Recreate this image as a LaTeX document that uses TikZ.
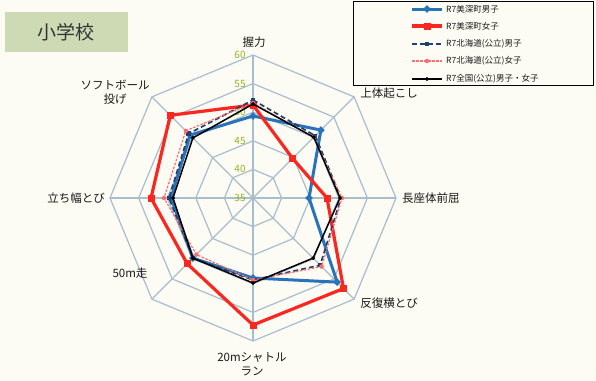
\documentclass[tikz,border=0pt]{standalone}
\usepackage{fontspec}
\setmainfont{Noto Sans CJK JP}
\usetikzlibrary{shapes.geometric}
\definecolor{bg}{RGB}{252,251,244}
\definecolor{gridc}{RGB}{168,190,204}
\definecolor{sblue}{RGB}{40,115,185}
\definecolor{sred}{RGB}{250,38,32}
\definecolor{snavy}{RGB}{35,65,110}
\definecolor{spink}{RGB}{250,110,110}
\definecolor{ringlab}{RGB}{150,180,30}
\definecolor{titlebg}{RGB}{205,218,180}
\definecolor{txt}{RGB}{25,25,25}
\tikzset{
  gridline/.style={draw=gridc, line width=1.2pt},
  ringlabel/.style={text=ringlab, font=\fontsize{10}{11}\selectfont, inner sep=0pt},
  axislabel/.style={text=txt, font=\fontsize{11.5}{14}\selectfont, inner sep=0pt, align=center},
  blueline/.style={draw=sblue, line width=3pt, line join=round},
  redline/.style={draw=sred, line width=3.2pt, line join=round},
  navyline/.style={draw=snavy, line width=1.7pt, dash pattern=on 5pt off 3pt, line join=round},
  pinkline/.style={draw=spink, line width=1.2pt, dash pattern=on 2.5pt off 1.5pt, line join=round},
  blackline/.style={draw=black, line width=1.5pt, line join=round},
  bluemark/.style={diamond, fill=sblue, minimum size=8pt, inner sep=0pt},
  redmark/.style={rectangle, fill=sred, minimum size=7pt, inner sep=0pt},
  navymark/.style={rectangle, fill=snavy, minimum size=4.5pt, inner sep=0pt},
  pinkmark/.style={circle, fill=spink, minimum size=4.5pt, inner sep=0pt},
  blackmark/.style={diamond, fill=black, minimum size=4.5pt, inner sep=0pt},
  legtext/.style={anchor=west, text=txt, font=\fontsize{8.5}{10}\selectfont, inner sep=0pt},
  titlebox/.style={fill=titlebg, minimum width=123pt, minimum height=40pt, inner sep=0pt,
    text=black!80, font=\fontsize{19}{22}\selectfont}
}
\begin{document}
\begin{tikzpicture}[x=1pt,y=-1pt]
\fill[bg] (0,0) rectangle (596,380);
\useasboundingbox (0,0) rectangle (596,380);

% title
\node[titlebox] (title) at (66,32) {小学校};

% radar
\begin{scope}[shift={(253,198)}, y=1pt]
  \coordinate (C) at (0,0);
  \foreach \k in {1,...,5} {
    \pgfmathsetmacro\r{28.6*\k}
    \draw[gridline] (90:\r) -- (45:\r) -- (0:\r) -- (-45:\r) -- (-90:\r) -- (-135:\r) -- (180:\r) -- (135:\r) -- cycle;
  }
  \foreach \a [count=\i] in {90,45,0,-45,-90,-135,180,135} {
    \coordinate (ax\i) at (\a:143);
    \draw[gridline] (C) -- (ax\i);
  }
  \foreach \k/\v in {0/35,1/40,2/45,3/50,4/55,5/60} {
    \node[ringlabel] (rl\v) at (-13,{28.6*\k}) {\v};
  }
  \foreach \s/\vals in {b/{82,96,56,119,80,85,82,89},
                        r/{93,56,74,128,127,93,102,117},
                        n/{98,88,88,95,82,85,84,91},
                        p/{95,86,89,97,82,80,89,95},
                        k/{94,86,87,85,85,85,80,85}} {
    \foreach \v [count=\i] in \vals {
      \coordinate (\s\i) at ({90-45*(\i-1)}:\v);
    }
  }
  \draw[blueline] (b1) -- (b2) -- (b3) -- (b4) -- (b5) -- (b6) -- (b7) -- (b8) -- cycle;
  \foreach \i in {1,...,8} \node[bluemark] (bm\i) at (b\i) {};
  \draw[redline] (r1) -- (r2) -- (r3) -- (r4) -- (r5) -- (r6) -- (r7) -- (r8) -- cycle;
  \foreach \i in {1,...,8} \node[redmark] (rm\i) at (r\i) {};
  \draw[navyline] (n1) -- (n2) -- (n3) -- (n4) -- (n5) -- (n6) -- (n7) -- (n8) -- cycle;
  \foreach \i in {1,...,8} \node[navymark] (nm\i) at (n\i) {};
  \draw[pinkline] (p1) -- (p2) -- (p3) -- (p4) -- (p5) -- (p6) -- (p7) -- (p8) -- cycle;
  \foreach \i in {1,...,8} \node[pinkmark] (pm\i) at (p\i) {};
  \draw[blackline] (k1) -- (k2) -- (k3) -- (k4) -- (k5) -- (k6) -- (k7) -- (k8) -- cycle;
  \foreach \i in {1,...,8} \node[blackmark] (km\i) at (k\i) {};
\end{scope}

% axis labels
\node[axislabel] (l1) at (254,42) {握力};
\node[axislabel] (l2) at (389,93) {上体起こし};
\node[axislabel, anchor=west] (l3) at (402,198) {長座体前屈};
\node[axislabel] (l4) at (389,303) {反復横とび};
\node[axislabel] (l5) at (252,364) {20mシャトル\\ラン};
\node[axislabel] (l6) at (130,273) {50m走};
\node[axislabel] (l7) at (76,198) {立ち幅とび};
\node[axislabel] (l8) at (115,92) {ソフトボール\\投げ};

% legend
\node[draw=black, line width=1.4pt, minimum width=240pt, minimum height=84pt, inner sep=0pt, anchor=north west] (legend) at (353,1) {};
\foreach \y/\st/\mk/\tx [count=\i] in {9/blueline/bluemark/R7美深町男子,
                                       26/redline/redmark/R7美深町女子,
                                       44/navyline/navymark/R7北海道(公立)男子,
                                       61/pinkline/pinkmark/R7北海道(公立)女子,
                                       79/blackline/blackmark/R7全国(公立)男子・女子} {
  \coordinate (la\i) at (412,\y);
  \coordinate (lb\i) at (442,\y);
  \draw[\st] (la\i) -- (lb\i);
  \node[\mk] (lm\i) at (427,\y) {};
  \node[legtext] (lt\i) at (446,\y) {\tx};
}
\end{tikzpicture}
\end{document}
